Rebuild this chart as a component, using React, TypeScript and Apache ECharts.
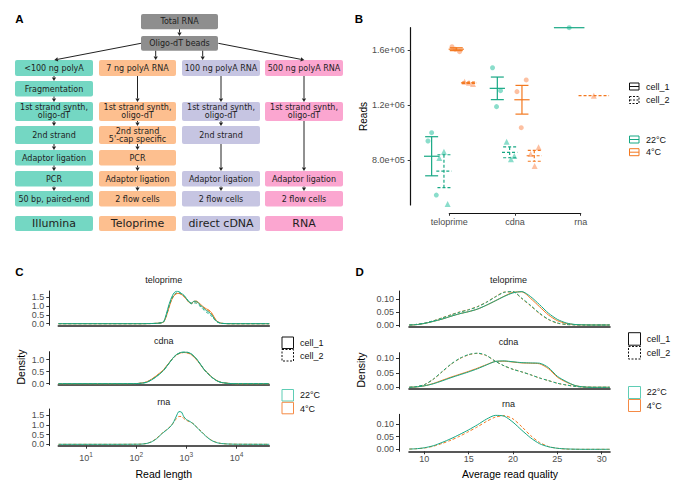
import React, { useEffect, useRef } from "react";
import * as echarts from "echarts";

// ---------------- Panel A: flowchart text ----------------
const flowTop = ["Total RNA", "Oligo-dT beads"];
const flowColumns = [
  ["<100 ng polyA", "Fragmentation", "1st strand synth,\noligo-dT", "2nd strand", "Adaptor ligation", "PCR", "50 bp, paired-end"],
  ["7 ng polyA RNA", "1st strand synth,\noligo-dT", "2nd strand\n5'-cap specific", "PCR", "Adaptor ligation", "2 flow cells"],
  ["100 ng polyA RNA", "1st strand synth,\noligo-dT", "2nd strand", "Adaptor ligation", "2 flow cells"],
  ["500 ng polyA RNA", "1st strand synth,\noligo-dT", "Adaptor ligation", "2 flow cells"],
];
const flowColumnRows = [
  [0, 1, 2, 3, 4, 5, 6],
  [0, 2, 3, 4, 5, 6],
  [0, 2, 3, 5, 6],
  [0, 2, 5, 6],
];
const platforms = ["Illumina", "Teloprime", "direct cDNA", "RNA"];

// ---------------- Panel B: reads ----------------
const methods = ["teloprime", "cdna", "rna"];
const groupMethod = [0, 0, 0, 0, 1, 1, 1, 1, 2, 2];
const groupTemp = ["22°C", "22°C", "4°C", "4°C", "22°C", "22°C", "4°C", "4°C", "22°C", "4°C"];
const groupCell = ["cell_1", "cell_2", "cell_1", "cell_2", "cell_1", "cell_2", "cell_1", "cell_2", "cell_1", "cell_2"];
const groupReads = [
  [998600, 938000, 545000],
  [860000, 815000, 480000],
  [1624000, 1588000, 1605000],
  [1369000, 1362000, 1353000],
  [1471000, 1304000, 1188000],
  [933000, 805000, 829000],
  [1382000, 1297000, 1035000],
  [892000, 844000, 756000],
  [1762000],
  [1268000],
];
const groupJitter = [
  [0, -0.056, 0.071],
  [0, -0.071, 0.056],
  [-0.065, 0.05, -0.015],
  [-0.061, 0.006, 0.067],
  [-0.073, 0.049, -0.012],
  [-0.046, 0.02, 0.071],
  [0.065, -0.076, -0.011],
  [0.065, -0.056, 0.005],
  [0],
  [0],
];
const readTicks = [800000, 1200000, 1600000];

// ---------------- Panel C: read length densities ----------------
const cLogLen = [0.45, 1.5, 2.0, 2.1, 2.2, 2.3, 2.4, 2.5, 2.55, 2.6, 2.65, 2.7, 2.75, 2.8, 2.85, 2.9, 2.95, 3.0, 3.05, 3.1, 3.15, 3.2, 3.25, 3.3, 3.35, 3.4, 3.45, 3.5, 3.55, 3.6, 3.65, 3.7, 3.8, 3.9, 4.0, 4.65];
const cTelo22Cell1 = [0, 0, 0, 0, 0.005, 0.01, 0.02, 0.05, 0.13, 0.55, 1.05, 1.45, 1.72, 1.82, 1.8, 1.7, 1.6, 1.42, 1.24, 1.16, 1.26, 1.25, 1.13, 0.99, 0.85, 0.74, 0.64, 0.52, 0.3, 0.14, 0.06, 0.02, 0.005, 0, 0, 0];
const cTelo22Cell2 = [0, 0, 0, 0, 0.004, 0.01, 0.02, 0.05, 0.12, 0.48, 0.96, 1.36, 1.62, 1.73, 1.74, 1.68, 1.57, 1.4, 1.22, 1.12, 1.17, 1.15, 1.04, 0.9, 0.76, 0.64, 0.55, 0.43, 0.26, 0.12, 0.05, 0.02, 0.004, 0, 0, 0];
const cTelo4Cell1 = [0, 0, 0, 0, 0.004, 0.01, 0.02, 0.05, 0.11, 0.42, 0.88, 1.3, 1.56, 1.68, 1.7, 1.64, 1.53, 1.37, 1.2, 1.15, 1.26, 1.27, 1.17, 1.04, 0.92, 0.83, 0.76, 0.62, 0.38, 0.17, 0.07, 0.025, 0.005, 0, 0, 0];
const cTelo4Cell2 = [0, 0, 0, 0, 0.004, 0.01, 0.02, 0.05, 0.12, 0.45, 0.92, 1.33, 1.59, 1.7, 1.71, 1.65, 1.54, 1.38, 1.21, 1.13, 1.22, 1.22, 1.12, 0.99, 0.88, 0.79, 0.71, 0.57, 0.35, 0.16, 0.06, 0.02, 0.005, 0, 0, 0];
const cCdna22Cell1 = [0, 0, 0.005, 0.02, 0.05, 0.15, 0.29, 0.46, 0.56, 0.7, 0.84, 0.98, 1.12, 1.21, 1.27, 1.31, 1.32, 1.31, 1.29, 1.24, 1.15, 1.04, 0.9, 0.75, 0.6, 0.48, 0.38, 0.28, 0.2, 0.13, 0.08, 0.05, 0.02, 0.005, 0, 0];
const cCdna22Cell2 = [0, 0, 0.005, 0.02, 0.06, 0.16, 0.3, 0.47, 0.57, 0.7, 0.84, 0.98, 1.1, 1.2, 1.26, 1.3, 1.31, 1.32, 1.29, 1.23, 1.14, 1.03, 0.89, 0.74, 0.6, 0.48, 0.37, 0.28, 0.2, 0.13, 0.08, 0.05, 0.02, 0.005, 0, 0];
const cCdna4Cell1 = [0, 0, 0.006, 0.025, 0.07, 0.18, 0.33, 0.5, 0.6, 0.73, 0.86, 0.99, 1.11, 1.2, 1.26, 1.29, 1.3, 1.29, 1.27, 1.21, 1.12, 1.01, 0.88, 0.74, 0.6, 0.49, 0.39, 0.29, 0.21, 0.14, 0.09, 0.05, 0.02, 0.005, 0, 0];
const cCdna4Cell2 = [0, 0, 0.006, 0.024, 0.068, 0.17, 0.32, 0.49, 0.59, 0.72, 0.85, 0.98, 1.1, 1.19, 1.25, 1.28, 1.3, 1.29, 1.26, 1.2, 1.11, 1.0, 0.87, 0.73, 0.59, 0.48, 0.38, 0.28, 0.2, 0.13, 0.08, 0.05, 0.02, 0.005, 0, 0];
const cRna22Cell1 = [0, 0, 0.005, 0.01, 0.04, 0.12, 0.28, 0.52, 0.63, 0.73, 0.84, 0.97, 1.18, 1.46, 1.69, 1.67, 1.42, 1.28, 1.21, 1.13, 1.03, 0.89, 0.76, 0.64, 0.51, 0.39, 0.29, 0.2, 0.14, 0.09, 0.06, 0.04, 0.02, 0.01, 0.005, 0];
const cRna4Cell2 = [0, 0, 0.005, 0.012, 0.045, 0.13, 0.3, 0.54, 0.65, 0.75, 0.86, 0.98, 1.15, 1.33, 1.44, 1.44, 1.33, 1.24, 1.18, 1.12, 1.04, 0.91, 0.78, 0.66, 0.53, 0.41, 0.3, 0.21, 0.15, 0.1, 0.065, 0.04, 0.02, 0.01, 0.005, 0];
const cLogTicks = [1, 2, 3, 4];

// ---------------- Panel D: read quality densities ----------------
const dQual = [8.3, 9, 10, 11, 12, 13, 14, 15, 16, 17, 18, 19, 20, 21, 22, 23, 24, 25, 26, 27, 28, 29, 30, 30.9];
const dTelo22Cell1 = [0, 0.001, 0.006, 0.014, 0.023, 0.034, 0.044, 0.052, 0.062, 0.077, 0.094, 0.111, 0.125, 0.13, 0.11, 0.079, 0.046, 0.022, 0.008, 0.002, 0.0005, 0, 0, 0];
const dTelo4Cell1 = [0, 0.001, 0.006, 0.014, 0.023, 0.034, 0.044, 0.052, 0.062, 0.077, 0.094, 0.112, 0.127, 0.129, 0.103, 0.071, 0.039, 0.017, 0.006, 0.0015, 0.0004, 0, 0, 0];
const dTelo22Cell2 = [0, 0.002, 0.007, 0.016, 0.027, 0.039, 0.05, 0.059, 0.071, 0.088, 0.109, 0.127, 0.13, 0.104, 0.076, 0.046, 0.022, 0.008, 0.002, 0.0005, 0, 0, 0, 0];
const dTelo4Cell2 = [0, 0.002, 0.007, 0.016, 0.028, 0.04, 0.051, 0.06, 0.072, 0.089, 0.11, 0.128, 0.129, 0.102, 0.074, 0.044, 0.021, 0.007, 0.002, 0.0005, 0, 0, 0, 0];
const dCdna22Cell1 = [0, 0.001, 0.005, 0.012, 0.022, 0.033, 0.043, 0.053, 0.064, 0.077, 0.089, 0.091, 0.088, 0.085, 0.084, 0.083, 0.068, 0.038, 0.02, 0.006, 0.001, 0, 0, 0];
const dCdna4Cell1 = [0, 0.001, 0.005, 0.013, 0.024, 0.035, 0.045, 0.055, 0.066, 0.078, 0.089, 0.09, 0.087, 0.084, 0.083, 0.081, 0.064, 0.035, 0.018, 0.006, 0.001, 0, 0, 0];
const dCdna22Cell2 = [0, 0.002, 0.009, 0.028, 0.054, 0.08, 0.1, 0.113, 0.118, 0.11, 0.09, 0.074, 0.062, 0.053, 0.043, 0.032, 0.023, 0.014, 0.008, 0.003, 0.001, 0, 0, 0];
const dCdna4Cell2 = [0, 0.002, 0.009, 0.027, 0.053, 0.079, 0.099, 0.112, 0.117, 0.109, 0.09, 0.074, 0.062, 0.053, 0.043, 0.032, 0.023, 0.014, 0.008, 0.003, 0.001, 0, 0, 0];
const dRna22Cell1 = [0.001, 0.002, 0.006, 0.014, 0.027, 0.042, 0.059, 0.077, 0.097, 0.119, 0.134, 0.131, 0.107, 0.075, 0.045, 0.022, 0.01, 0.004, 0.0015, 0.0005, 0, 0, 0, 0];
const dRna4Cell2 = [0.001, 0.002, 0.005, 0.012, 0.023, 0.036, 0.052, 0.07, 0.089, 0.11, 0.127, 0.133, 0.12, 0.089, 0.054, 0.027, 0.011, 0.004, 0.001, 0, 0, 0, 0, 0];
const dQualTicks = [10, 15, 20, 25, 30];

// ---------------- styles ----------------
const TEAL = "#17a884";
const ORANGE = "#f3781f";
const TEAL_PT = "#6dd4be";
const ORANGE_PT = "#fdb089";
const TEAL_KEY = "#5fcdb5";
const ORANGE_KEY = "#f58a45";
const FONT = "'Liberation Sans', Arial, sans-serif";
const FLOW_FONT = "'DejaVu Sans', sans-serif";
const TICK_COLOR = "#4d4d4d";
const FLOW_COLORS = ["#74d7c3", "#fdbf8f", "#c6c5e2", "#fba6d0"];
const FLOW_GRAY = "#8e8e8e";

function txt(x: number, y: number, text: string, o: any = {}) {
  return {
    type: "text",
    x,
    y,
    rotation: o.rot || 0,
    silent: true,
    z: 10,
    style: {
      text,
      fontSize: o.size || 9,
      fontFamily: o.font || FONT,
      fontWeight: o.weight || "normal",
      fill: o.fill || "#1a1a1a",
      align: o.align || "center",
      verticalAlign: o.va || "middle",
      textAlign: o.align || "center",
      textVerticalAlign: o.va || "middle",
      lineHeight: o.lh,
    },
  };
}

function arrow(x1: number, y1: number, x2: number, y2: number) {
  const dx = x2 - x1;
  const dy = y2 - y1;
  const L = Math.hypot(dx, dy);
  const ux = dx / L;
  const uy = dy / L;
  const hl = 3.6;
  const hw = 2.1;
  const bx = x2 - ux * hl;
  const by = y2 - uy * hl;
  return [
    { type: "line", silent: true, z: 5, shape: { x1, y1, x2: bx, y2: by }, style: { stroke: "#222", lineWidth: 1 } },
    {
      type: "polygon",
      silent: true,
      z: 5,
      shape: { points: [[x2, y2], [bx - uy * hw, by + ux * hw], [bx + uy * hw, by - ux * hw]] },
      style: { fill: "#222" },
    },
  ];
}

function box(x0: number, x1: number, y0: number, y1: number, fill: string, text: string, size = 8, lh = 8) {
  return [
    { type: "rect", silent: true, z: 4, shape: { x: x0, y: y0, width: x1 - x0, height: y1 - y0, r: 2 }, style: { fill } },
    txt((x0 + x1) / 2, (y0 + y1) / 2 + 0.3, text, { size, font: FLOW_FONT, lh, fill: "#1e1e1e" }),
  ];
}

function buildFlow() {
  const els: any[] = [];
  const colX = [[15, 93], [99, 176], [182, 260], [265, 343]];
  const rowY = [[60, 76], [81, 96.5], [102, 121], [126, 144], [150, 165.5], [171, 186.5], [191, 206.5], [216, 231]];
  els.push(...box(141, 218, 14, 29.3, FLOW_GRAY, flowTop[0]));
  els.push(...box(141, 218, 36, 50.7, FLOW_GRAY, flowTop[1]));
  els.push(...arrow(179.5, 29.3, 179.5, 36));
  els.push(...arrow(141, 43.3, 54.3, 60));
  els.push(...arrow(155.7, 50.7, 155.7, 60));
  els.push(...arrow(202.7, 50.7, 202.7, 60));
  els.push(...arrow(218.3, 43.3, 304.3, 60));
  flowColumns.forEach((steps, c) => {
    const [x0, x1] = colX[c];
    const cx = (x0 + x1) / 2;
    const rows = flowColumnRows[c];
    steps.forEach((s, i) => {
      const [y0, y1] = rowY[rows[i]];
      const lh = s.indexOf("5'") >= 0 ? 8.6 : 8;
      els.push(...box(x0, x1, y0, y1, FLOW_COLORS[c], s, 8, lh));
      if (i < steps.length - 1) {
        els.push(...arrow(cx, y1, cx, rowY[rows[i + 1]][0]));
      }
    });
    els.push(...box(x0, x1, rowY[7][0], rowY[7][1], FLOW_COLORS[c], platforms[c], 11, 12));
  });
  return els;
}

// legend key helpers
function keyBox(x: number, y: number, w: number, h: number, color: string, dashed: boolean) {
  return {
    type: "rect",
    silent: true,
    z: 10,
    shape: { x, y, width: w, height: h },
    style: { fill: "#fff", stroke: color, lineWidth: 1, lineDash: dashed ? [2, 1.5] : null },
  };
}
function keyCrossbar(x: number, y: number, w: number, h: number, color: string, dashed: boolean) {
  return [
    keyBox(x, y, w, h, color, dashed),
    {
      type: "line",
      silent: true,
      z: 10,
      shape: { x1: x, y1: y + h / 2, x2: x + w, y2: y + h / 2 },
      style: { stroke: color, lineWidth: 1, lineDash: dashed ? [2, 1.5] : null },
    },
  ];
}

function fmtSci(v: number) {
  return v.toExponential(1).replace(/e([+-])(\d)$/, "e$10$2");
}

function groupX(g: number) {
  const m = groupMethod[g];
  const members = groupMethod.map((mm, i) => (mm === m ? i : -1)).filter((i) => i >= 0);
  const n = members.length;
  const k = members.indexOf(g);
  return m + 1 + ((k - (n - 1) / 2) * 0.75) / n;
}
function groupHalfWidth(g: number) {
  const m = groupMethod[g];
  const n = groupMethod.filter((mm) => mm === m).length;
  return 0.93 / n / 2;
}

function buildOption() {
  const series: any[] = [];

  // ---- Panel B ----
  const combos = [
    ["22°C", "cell_1"],
    ["22°C", "cell_2"],
    ["4°C", "cell_1"],
    ["4°C", "cell_2"],
  ];
  combos.forEach(([t, c]) => {
    const idx = groupMethod.map((_, g) => g).filter((g) => groupTemp[g] === t && groupCell[g] === c);
    const color = t === "22°C" ? TEAL : ORANGE;
    const ptColor = t === "22°C" ? TEAL_PT : ORANGE_PT;
    const dashed = c === "cell_2";
    const pts: number[][] = [];
    idx.forEach((g) => {
      const xc = groupX(g);
      groupReads[g].forEach((v, j) => pts.push([xc + groupJitter[g][j], v]));
    });
    series.push({
      type: "scatter",
      xAxisIndex: 0,
      yAxisIndex: 0,
      silent: true,
      symbol: dashed ? "triangle" : "circle",
      symbolSize: dashed ? 6 : 5,
      itemStyle: { color: ptColor },
      data: pts,
      z: 2,
    });
    const errData = idx.map((g) => {
      const vals = groupReads[g];
      const n = vals.length;
      const mean = vals.reduce((a, b) => a + b, 0) / n;
      let se = 0;
      if (n > 1) {
        const sd = Math.sqrt(vals.reduce((a, b) => a + (b - mean) * (b - mean), 0) / (n - 1));
        se = sd / Math.sqrt(n);
      }
      return [groupX(g), mean, mean - se, mean + se, groupHalfWidth(g), n];
    });
    series.push({
      type: "custom",
      xAxisIndex: 0,
      yAxisIndex: 0,
      silent: true,
      z: 3,
      encode: { x: 0, y: 1 },
      data: errData,
      renderItem: (params: any, api: any) => {
        const x = api.value(0);
        const m = api.value(1);
        const lo = api.value(2);
        const hi = api.value(3);
        const hw = api.value(4);
        const n = api.value(5);
        const st = { stroke: color, lineWidth: 1.2, fill: null, lineDash: dashed ? [3, 2] : null };
        const ch: any[] = [];
        const a = api.coord([x - hw, m]);
        const b = api.coord([x + hw, m]);
        ch.push({ type: "line", shape: { x1: a[0], y1: a[1], x2: b[0], y2: b[1] }, style: st });
        if (n > 1) {
          const chw = hw * 0.85;
          const t1 = api.coord([x - chw, hi]);
          const t2 = api.coord([x + chw, hi]);
          const b1 = api.coord([x - chw, lo]);
          const b2 = api.coord([x + chw, lo]);
          const vt = api.coord([x, hi]);
          const vb = api.coord([x, lo]);
          ch.push({ type: "line", shape: { x1: t1[0], y1: t1[1], x2: t2[0], y2: t2[1] }, style: st });
          ch.push({ type: "line", shape: { x1: b1[0], y1: b1[1], x2: b2[0], y2: b2[1] }, style: st });
          ch.push({ type: "line", shape: { x1: vt[0], y1: vt[1], x2: vb[0], y2: vb[1] }, style: st });
        }
        return { type: "group", children: ch };
      },
    });
  });

  // ---- Panel C / D ----
  const cFacets = [
    [
      { ys: cTelo4Cell2, temp: "4°C", cell: "cell_2" },
      { ys: cTelo4Cell1, temp: "4°C", cell: "cell_1" },
      { ys: cTelo22Cell2, temp: "22°C", cell: "cell_2" },
      { ys: cTelo22Cell1, temp: "22°C", cell: "cell_1" },
    ],
    [
      { ys: cCdna4Cell2, temp: "4°C", cell: "cell_2" },
      { ys: cCdna4Cell1, temp: "4°C", cell: "cell_1" },
      { ys: cCdna22Cell2, temp: "22°C", cell: "cell_2" },
      { ys: cCdna22Cell1, temp: "22°C", cell: "cell_1" },
    ],
    [
      { ys: cRna4Cell2, temp: "4°C", cell: "cell_2" },
      { ys: cRna22Cell1, temp: "22°C", cell: "cell_1" },
    ],
  ];
  const dFacets = [
    [
      { ys: dTelo4Cell2, temp: "4°C", cell: "cell_2" },
      { ys: dTelo4Cell1, temp: "4°C", cell: "cell_1" },
      { ys: dTelo22Cell2, temp: "22°C", cell: "cell_2" },
      { ys: dTelo22Cell1, temp: "22°C", cell: "cell_1" },
    ],
    [
      { ys: dCdna4Cell2, temp: "4°C", cell: "cell_2" },
      { ys: dCdna4Cell1, temp: "4°C", cell: "cell_1" },
      { ys: dCdna22Cell2, temp: "22°C", cell: "cell_2" },
      { ys: dCdna22Cell1, temp: "22°C", cell: "cell_1" },
    ],
    [
      { ys: dRna4Cell2, temp: "4°C", cell: "cell_2" },
      { ys: dRna22Cell1, temp: "22°C", cell: "cell_1" },
    ],
  ];
  const addCurves = (facets: any[], xs: number[], axisBase: number) => {
    facets.forEach((curves: any[], f: number) => {
      curves.forEach((cv) => {
        series.push({
          type: "line",
          xAxisIndex: axisBase + f,
          yAxisIndex: axisBase + f,
          silent: true,
          showSymbol: false,
          smooth: 0.25,
          z: 3,
          data: xs.map((x, i) => [x, cv.ys[i]]),
          lineStyle: {
            color: cv.temp === "22°C" ? TEAL : ORANGE,
            width: 1,
            type: cv.cell === "cell_2" ? [3, 2] : "solid",
          },
        });
      });
    });
  };
  addCurves(cFacets, cLogLen, 2);
  addCurves(dFacets, dQual, 5);

  // ---- axes ----
  const grid = [
    { left: 410.7, top: 27.7, width: 210.2, height: 177.3 },
    { left: 449.3, top: 212.3, width: 131.4, height: 1 },
    { left: 58.3, top: 291, width: 211, height: 34.3 },
    { left: 58.3, top: 351.7, width: 211, height: 33 },
    { left: 58.3, top: 409, width: 211, height: 36.7 },
    { left: 409, top: 291, width: 201, height: 35.8 },
    { left: 409, top: 352.7, width: 201, height: 36.3 },
    { left: 409, top: 414.3, width: 201, height: 37 },
  ];
  const tickLabel = { fontSize: 9, color: TICK_COLOR, fontFamily: FONT };
  const xAxis: any[] = [
    { gridIndex: 0, type: "value", min: 0.4, max: 3.6, show: false },
    {
      gridIndex: 1,
      type: "value",
      min: 1,
      max: 3,
      interval: 1,
      position: "bottom",
      axisLine: { show: true, onZero: false, lineStyle: { color: "#111", width: 1.2 } },
      axisTick: { show: true, length: 2.5, lineStyle: { color: "#333" } },
      axisLabel: { ...tickLabel, margin: 4, formatter: (v: number) => methods[Math.round(v) - 1] },
      splitLine: { show: false },
    },
  ];
  const yAxis: any[] = [
    {
      gridIndex: 0,
      type: "value",
      min: 472700,
      max: 1762000,
      axisLine: { show: true, lineStyle: { color: "#111", width: 1.2 } },
      axisTick: { show: true, length: 3, customValues: readTicks, lineStyle: { color: "#333" } },
      axisLabel: { ...tickLabel, margin: 6, customValues: readTicks, formatter: (v: number) => fmtSci(v) },
      splitLine: { show: false },
    },
    { gridIndex: 1, type: "value", show: false, min: 0, max: 1 },
  ];
  const cYRange = [
    [-0.09, 1.837],
    [-0.042, 1.333],
    [-0.072, 1.826],
  ];
  const cYTicks = [[0, 0.5, 1, 1.5], [0, 0.5, 1], [0, 0.5, 1, 1.5]];
  for (let f = 0; f < 3; f++) {
    const last = f === 2;
    xAxis.push({
      gridIndex: 2 + f,
      type: "value",
      min: 0.446,
      max: 4.652,
      axisLine: { show: true, onZero: false, lineStyle: { color: "#222", width: 1.6 } },
      axisTick: { show: last, length: 3, customValues: cLogTicks, lineStyle: { color: "#333" } },
      axisLabel: {
        show: last,
        margin: 5,
        customValues: cLogTicks,
        formatter: (v: number) => `{b|10}{s|${Math.round(v)}}`,
        rich: {
          b: { fontSize: 9, color: TICK_COLOR, fontFamily: FONT, lineHeight: 12, verticalAlign: "bottom" },
          s: { fontSize: 6.5, color: TICK_COLOR, fontFamily: FONT, lineHeight: 6.5, verticalAlign: "top" },
        },
      },
      splitLine: { show: false },
    });
    yAxis.push({
      gridIndex: 2 + f,
      type: "value",
      min: cYRange[f][0],
      max: cYRange[f][1],
      offset: 9,
      axisLine: { show: true, lineStyle: { color: "#222", width: 1 } },
      axisTick: { show: true, length: 3, customValues: cYTicks[f], lineStyle: { color: "#333" } },
      axisLabel: { ...tickLabel, margin: 5, customValues: cYTicks[f], formatter: (v: number) => v.toFixed(1) },
      splitLine: { show: false },
    });
  }
  const dYRange = [
    [-0.007, 0.1323],
    [-0.0059, 0.1193],
    [-0.0079, 0.1383],
  ];
  const dYTicks = [0, 0.05, 0.1];
  for (let f = 0; f < 3; f++) {
    const last = f === 2;
    xAxis.push({
      gridIndex: 5 + f,
      type: "value",
      min: 8.27,
      max: 30.94,
      axisLine: { show: true, onZero: false, lineStyle: { color: "#222", width: 1.6 } },
      axisTick: { show: last, length: 3, customValues: dQualTicks, lineStyle: { color: "#333" } },
      axisLabel: { ...tickLabel, show: last, margin: 3, customValues: dQualTicks },
      splitLine: { show: false },
    });
    yAxis.push({
      gridIndex: 5 + f,
      type: "value",
      min: dYRange[f][0],
      max: dYRange[f][1],
      offset: 10,
      axisLine: { show: true, lineStyle: { color: "#222", width: 1 } },
      axisTick: { show: true, length: 3, customValues: dYTicks, lineStyle: { color: "#333" } },
      axisLabel: { ...tickLabel, margin: 5, customValues: dYTicks, formatter: (v: number) => v.toFixed(2) },
      splitLine: { show: false },
    });
  }

  // ---- graphic: flowchart, titles, legends ----
  const g: any[] = [];
  g.push(...buildFlow());
  const letterOpt = { size: 11.5, weight: "bold", fill: "#000" };
  g.push(txt(19.5, 19.3, "A", letterOpt));
  g.push(txt(358.8, 19.3, "B", letterOpt));
  g.push(txt(19.5, 272, "C", letterOpt));
  g.push(txt(359.7, 272, "D", letterOpt));

  // B axis title and legend
  g.push(txt(363.5, 116.5, "Reads", { size: 10, rot: Math.PI / 2, fill: "#000" }));
  g.push(...keyCrossbar(629.5, 83, 9.5, 7, "#111", false));
  g.push(...keyCrossbar(629.5, 96.5, 9.5, 7, "#111", true));
  g.push(...keyCrossbar(629.5, 136, 9.5, 7, TEAL, false));
  g.push(...keyCrossbar(629.5, 148.7, 9.5, 7, ORANGE, false));
  g.push(txt(646, 86.5, "cell_1", { align: "left", fill: "#111" }));
  g.push(txt(646, 100, "cell_2", { align: "left", fill: "#111" }));
  g.push(txt(646, 139.5, "22°C", { align: "left", fill: "#111" }));
  g.push(txt(646, 152.3, "4°C", { align: "left", fill: "#111" }));

  // C titles
  g.push(txt(163.8, 280, methods[0], { size: 9 }));
  g.push(txt(163.8, 341, methods[1], { size: 9 }));
  g.push(txt(163.8, 401.7, methods[2], { size: 9 }));
  g.push(txt(20.5, 367, "Density", { size: 10.5, rot: Math.PI / 2, fill: "#000" }));
  g.push(txt(163.8, 473.5, "Read length", { size: 10.5, fill: "#000" }));
  g.push(keyBox(282, 337, 11.5, 11.5, "#111", false));
  g.push(keyBox(282, 349.5, 11.5, 11.5, "#111", true));
  g.push(keyBox(282, 389.5, 11.5, 11.5, TEAL_KEY, false));
  g.push(keyBox(282, 402.3, 11.5, 11.5, ORANGE_KEY, false));
  g.push(txt(300, 342.5, "cell_1", { align: "left", fill: "#111" }));
  g.push(txt(300, 355.8, "cell_2", { align: "left", fill: "#111" }));
  g.push(txt(300, 395, "22°C", { align: "left", fill: "#111" }));
  g.push(txt(300, 408.5, "4°C", { align: "left", fill: "#111" }));

  // D titles
  g.push(txt(508.5, 280.3, methods[0], { size: 9 }));
  g.push(txt(508.5, 342.3, methods[1], { size: 9 }));
  g.push(txt(508.5, 404.3, methods[2], { size: 9 }));
  g.push(txt(360.5, 370, "Density", { size: 10.5, rot: Math.PI / 2, fill: "#000" }));
  g.push(txt(510, 473.5, "Average read quality", { size: 10.5, fill: "#000" }));
  g.push(keyBox(628.5, 332.7, 12, 12.5, "#111", false));
  g.push(keyBox(628.5, 346.5, 12, 12.5, "#111", true));
  g.push(keyBox(628.5, 386.5, 12, 12, TEAL_KEY, false));
  g.push(keyBox(628.5, 399.5, 12, 12, ORANGE_KEY, false));
  g.push(txt(646.7, 339.3, "cell_1", { align: "left", fill: "#111" }));
  g.push(txt(646.7, 353.3, "cell_2", { align: "left", fill: "#111" }));
  g.push(txt(646.7, 392.3, "22°C", { align: "left", fill: "#111" }));
  g.push(txt(646.7, 405.7, "4°C", { align: "left", fill: "#111" }));

  return {
    animation: false,
    backgroundColor: "#fff",
    textStyle: { fontFamily: FONT },
    grid,
    xAxis,
    yAxis,
    series,
    graphic: { elements: g },
  };
}

export default function App() {
  const ref = useRef<HTMLDivElement>(null);
  useEffect(() => {
    if (!ref.current) return;
    const chart = echarts.init(ref.current, undefined, { renderer: "svg" });
    chart.setOption(buildOption() as any);
    return () => chart.dispose();
  }, []);
  return (
    <div
      ref={ref}
      style={{ position: "absolute", left: 0, top: 0, width: 693, height: 486, background: "#fff" }}
    />
  );
}
